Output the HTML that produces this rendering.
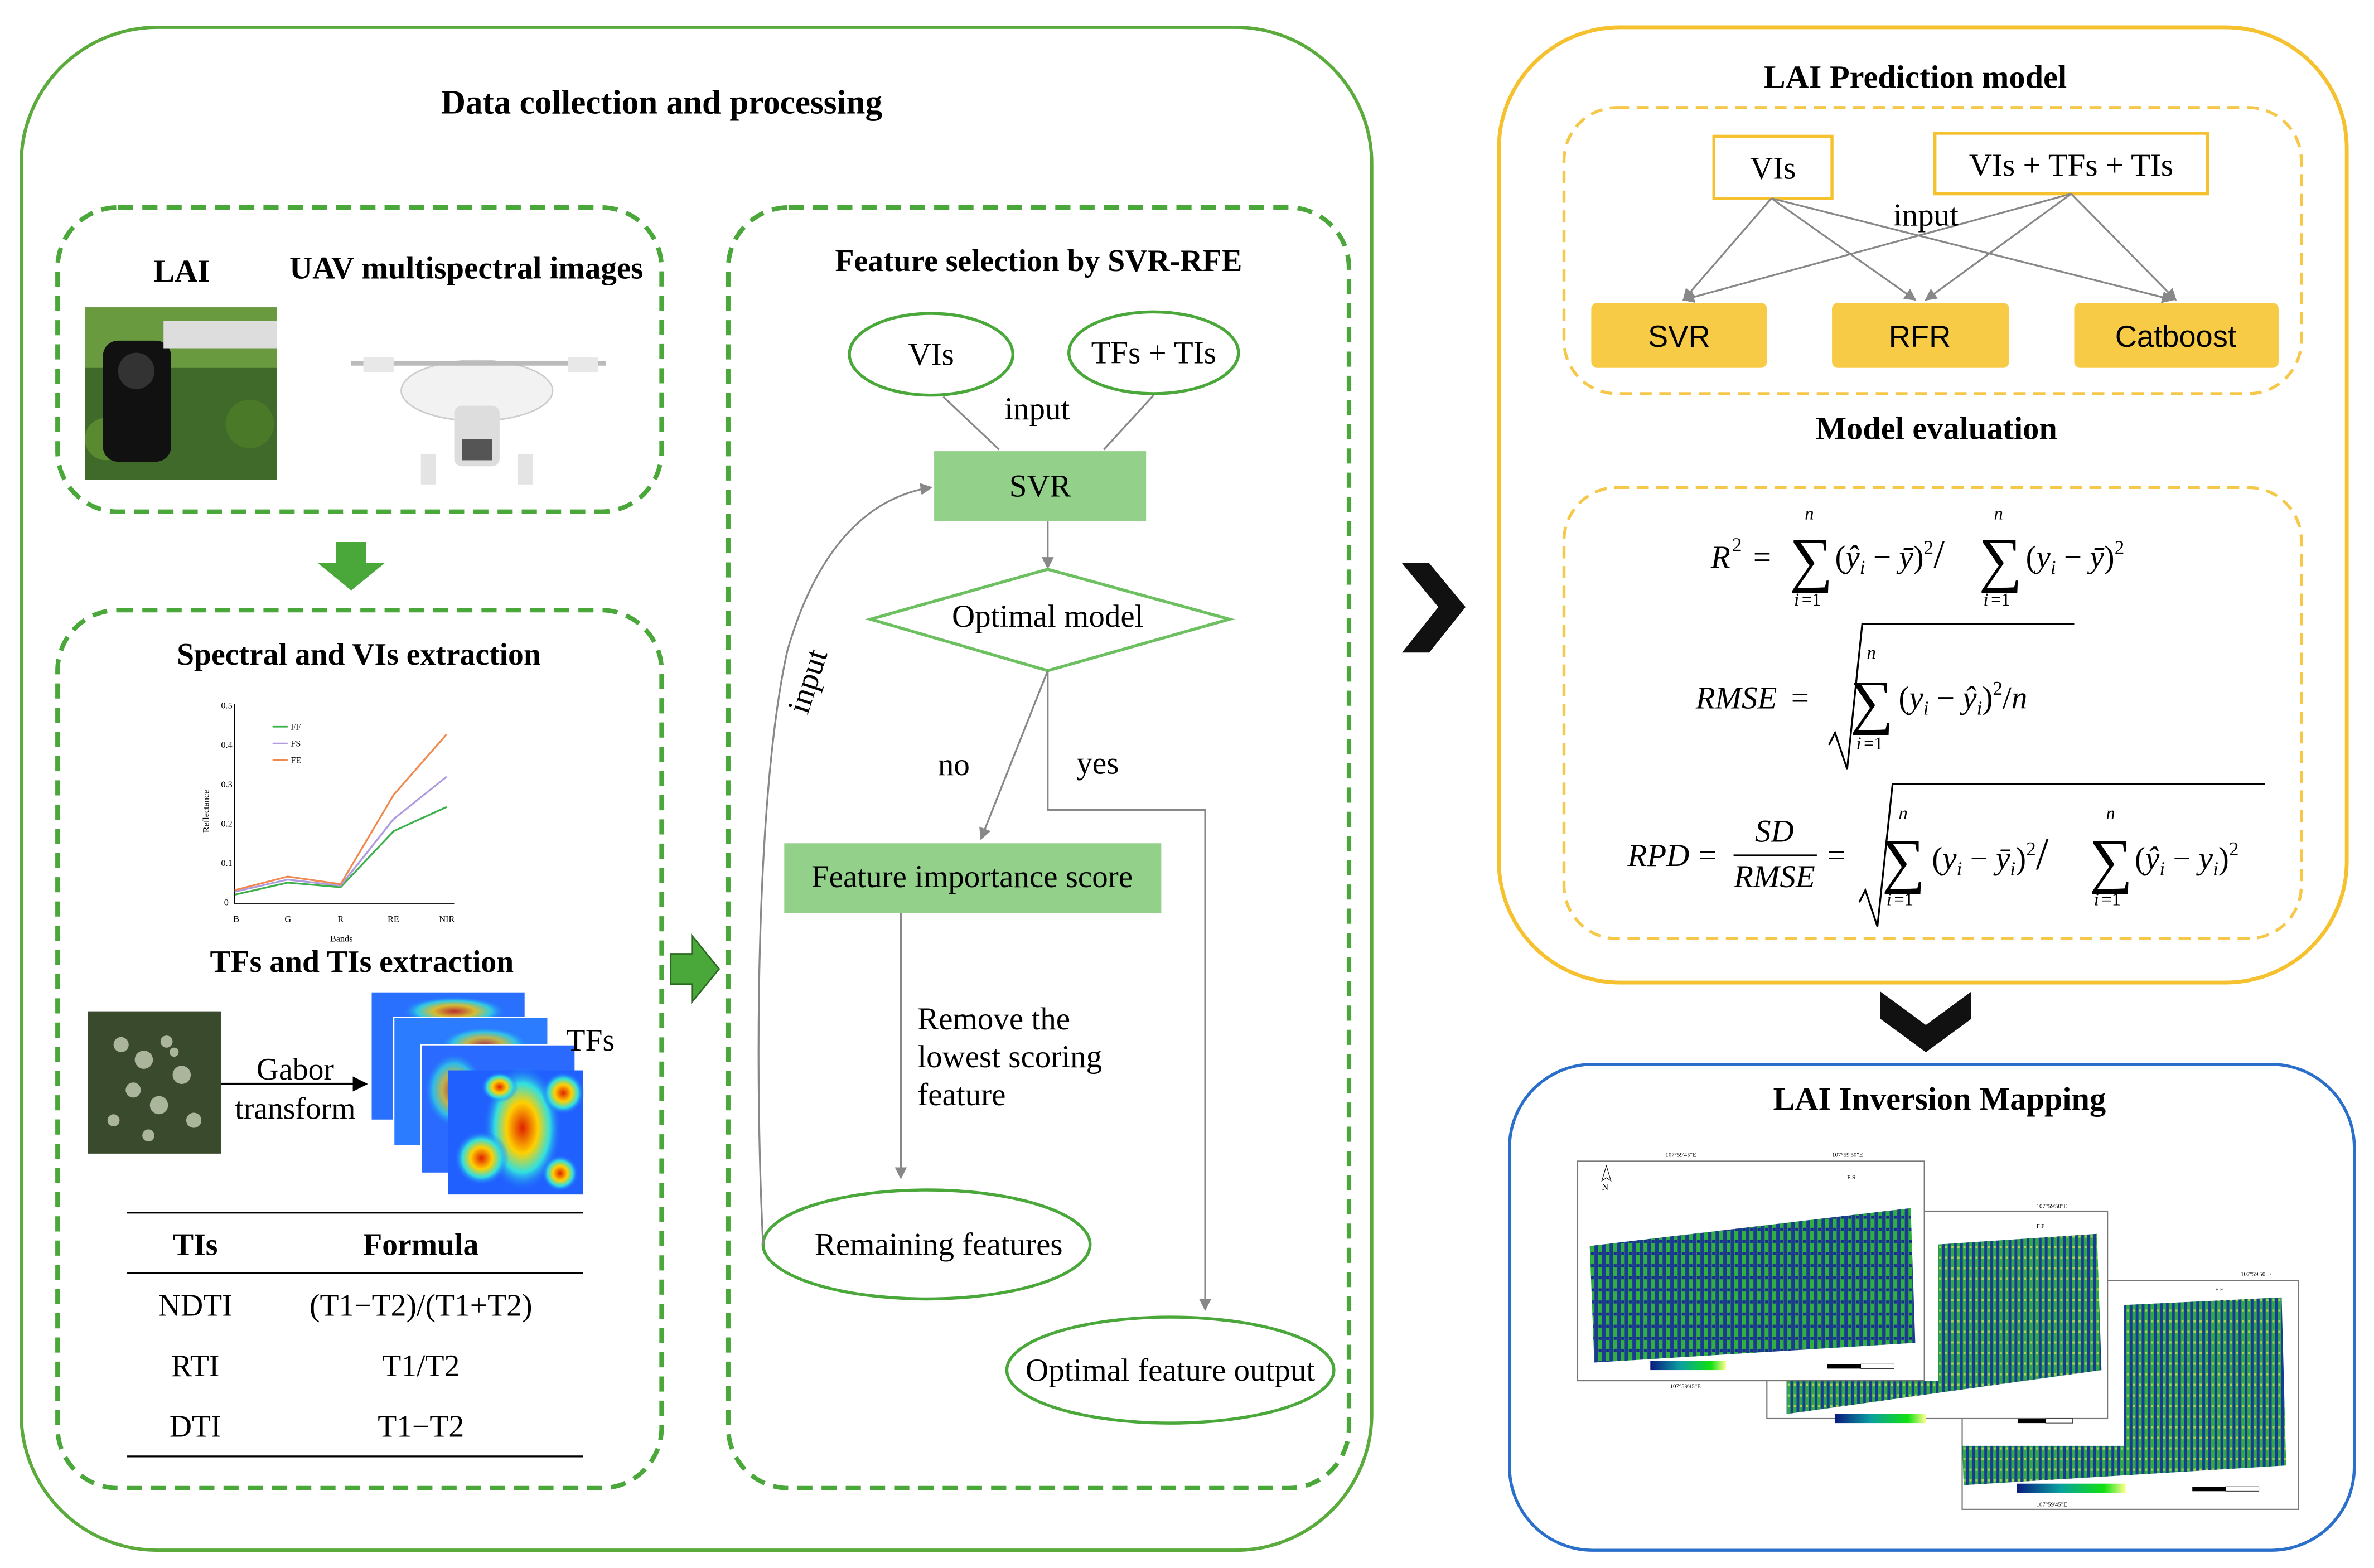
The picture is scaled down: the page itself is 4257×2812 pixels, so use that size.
<!DOCTYPE html>
<html><head><meta charset="utf-8"><style>
html,body{margin:0;padding:0;background:#fff}
svg{display:block}
text{font-family:"Liberation Serif",serif;fill:#000}
.b{font-weight:bold}
</style></head><body>
<svg width="4257" height="2812" viewBox="0 0 1568 1035.7" xmlns="http://www.w3.org/2000/svg">
<defs>
<marker id="ag" markerWidth="8" markerHeight="8" refX="7" refY="4" orient="auto" markerUnits="userSpaceOnUse"><path d="M0,0 L8,4 L0,8 z" fill="#888"/></marker>
<marker id="ak" markerWidth="10" markerHeight="10" refX="9" refY="5" orient="auto" markerUnits="userSpaceOnUse"><path d="M0,0 L10,5 L0,10 z" fill="#000"/></marker>
<pattern id="stripe" width="5" height="8" patternUnits="userSpaceOnUse">
<rect width="5" height="8" fill="#1c3a92"/><rect x="0.5" width="2.6" height="8" fill="#2fb040"/><rect x="0.8" y="3" width="2" height="2" fill="#16308a"/>
</pattern>
<pattern id="stripe2" width="4" height="7" patternUnits="userSpaceOnUse">
<rect width="4" height="7" fill="#1a3a98"/><rect x="0.4" width="2.2" height="7" fill="#30a848"/><rect x="0.8" y="4" width="1.4" height="1.5" fill="#a8d848"/>
</pattern>
<linearGradient id="cb" x1="0" x2="1"><stop offset="0" stop-color="#0a1a80"/><stop offset="0.4" stop-color="#0aa0a0"/><stop offset="0.8" stop-color="#10e010"/><stop offset="1" stop-color="#ffff90"/></linearGradient>
<radialGradient id="hot" cx="0.5" cy="0.5" r="0.5"><stop offset="0" stop-color="#e02000"/><stop offset="0.4" stop-color="#ffd000"/><stop offset="0.7" stop-color="#30e0e0"/><stop offset="1" stop-color="#2060ff" stop-opacity="0"/></radialGradient>
</defs>

<rect x="14" y="18" width="892" height="1006" rx="90" fill="none" stroke="#5aab3c" stroke-width="2.2"/>
<text x="437" y="75" font-size="22.5" class="b" text-anchor="middle">Data collection and processing</text>

<rect x="38" y="137" width="399" height="201" rx="40" fill="none" stroke="#4aa83a" stroke-width="3" stroke-dasharray="10,6"/>
<text x="120" y="186" font-size="21" class="b" text-anchor="middle">LAI</text>
<text x="308" y="184" font-size="21" class="b" text-anchor="middle">UAV multispectral images</text>
<rect x="56" y="203" width="127" height="114" fill="#3f6a2a"/>
<rect x="56" y="203" width="127" height="40" fill="#6a9a40"/>
<circle cx="70" cy="290" r="14" fill="#5a8a30"/><circle cx="165" cy="280" r="16" fill="#4a7a28"/>
<rect x="68" y="225" width="45" height="80" rx="10" fill="#111"/>
<circle cx="90" cy="245" r="12" fill="#333"/>
<rect x="108" y="212" width="75" height="18" fill="#ddd"/>
<ellipse cx="315" cy="258" rx="50" ry="20" fill="#f2f2f2" stroke="#ccc"/>
<rect x="300" y="268" width="30" height="40" rx="5" fill="#ddd"/>
<rect x="305" y="290" width="20" height="14" fill="#555"/>
<line x1="232" y1="240" x2="400" y2="240" stroke="#bbb" stroke-width="3"/>
<rect x="240" y="236" width="20" height="10" fill="#e8e8e8"/><rect x="375" y="236" width="20" height="10" fill="#e8e8e8"/>
<rect x="278" y="300" width="10" height="20" fill="#e4e4e4"/><rect x="342" y="300" width="10" height="20" fill="#e4e4e4"/>

<path d="M222,358 h20 v14 h12 l-22,18 l-22,-18 h12 z" fill="#4aa83a"/>

<rect x="38" y="403" width="399" height="580" rx="40" fill="none" stroke="#4aa83a" stroke-width="3" stroke-dasharray="10,6"/>
<text x="237" y="439" font-size="20.5" class="b" text-anchor="middle">Spectral  and VIs extraction</text>
<g font-size="6">
<line x1="155" y1="465" x2="155" y2="597" stroke="#000" stroke-width="0.6"/>
<line x1="155" y1="597" x2="300" y2="597" stroke="#000" stroke-width="0.6"/>
<text x="146" y="468">0.5</text><text x="146" y="494">0.4</text><text x="146" y="520">0.3</text><text x="146" y="546">0.2</text><text x="146" y="572">0.1</text><text x="148" y="598">0</text>
<text x="154" y="609">B</text><text x="188" y="609">G</text><text x="223" y="609">R</text><text x="256" y="609">RE</text><text x="290" y="609">NIR</text>
<text x="218" y="622">Bands</text>
<text x="138" y="550" transform="rotate(-90 138 550)">Reflectance</text>
<line x1="180" y1="480" x2="190" y2="480" stroke="#3cb04a"/><text x="192" y="482">FF</text>
<line x1="180" y1="491" x2="190" y2="491" stroke="#b09ae0"/><text x="192" y="493">FS</text>
<line x1="180" y1="502" x2="190" y2="502" stroke="#f08a50"/><text x="192" y="504">FE</text>
</g>
<polyline points="155,591 190,583 225,586 260,549 295,533" fill="none" stroke="#3cb04a" stroke-width="1.2"/>
<polyline points="155,589 190,581 225,585 260,541 295,513" fill="none" stroke="#b09ae0" stroke-width="1.2"/>
<polyline points="155,588 190,579 225,584 260,525 295,485" fill="none" stroke="#f08a50" stroke-width="1.2"/>

<text x="239" y="642" font-size="20.5" class="b" text-anchor="middle">TFs and TIs extraction</text>
<rect x="58" y="668" width="88" height="94" fill="#3a4a2c"/>
<g fill="#c8d0b8" opacity="0.8">
<circle cx="80" cy="690" r="5"/><circle cx="95" cy="700" r="6"/><circle cx="110" cy="688" r="4"/><circle cx="120" cy="710" r="6"/><circle cx="88" cy="720" r="5"/><circle cx="105" cy="730" r="6"/><circle cx="75" cy="740" r="4"/><circle cx="128" cy="740" r="5"/><circle cx="98" cy="750" r="4"/><circle cx="115" cy="695" r="3"/>
</g>
<text x="195" y="713" font-size="20.5" text-anchor="middle">Gabor</text>
<text x="195" y="739" font-size="20.5" text-anchor="middle">transform</text>
<line x1="146" y1="716" x2="242" y2="716" stroke="#000" stroke-width="1.5" marker-end="url(#ak)"/>
<g>
<rect x="245" y="655" width="102" height="85" fill="#2a70ff" stroke="#fff"/>
<ellipse cx="300" cy="668" rx="35" ry="10" fill="url(#hot)" opacity="0.8"/>
<rect x="260" y="672" width="102" height="85" fill="#2c7cff" stroke="#fff"/>
<ellipse cx="320" cy="690" rx="30" ry="12" fill="url(#hot)" opacity="0.7"/>
<rect x="278" y="690" width="102" height="85" fill="#2a6aff" stroke="#fff"/>
<ellipse cx="300" cy="720" rx="20" ry="25" fill="url(#hot)" opacity="0.7"/>
<rect x="296" y="707" width="89" height="82" fill="#2060ff"/>
<ellipse cx="345" cy="745" rx="26" ry="42" fill="url(#hot)"/>
<ellipse cx="318" cy="765" rx="18" ry="18" fill="url(#hot)"/>
<ellipse cx="372" cy="722" rx="14" ry="14" fill="url(#hot)"/>
<ellipse cx="330" cy="718" rx="12" ry="10" fill="url(#hot)"/>
<ellipse cx="370" cy="775" rx="12" ry="12" fill="url(#hot)"/>
</g>
<text x="390" y="694" font-size="20.5" text-anchor="middle">TFs</text>
<line x1="84" y1="801" x2="385" y2="801" stroke="#000" stroke-width="1.2"/>
<line x1="84" y1="841" x2="385" y2="841" stroke="#000" stroke-width="1"/>
<line x1="84" y1="962" x2="385" y2="962" stroke="#000" stroke-width="1.2"/>
<text x="129" y="829" font-size="20.5" class="b" text-anchor="middle">TIs</text>
<text x="278" y="829" font-size="20.5" class="b" text-anchor="middle">Formula</text>
<g font-size="20.5" text-anchor="middle">
<text x="129" y="869">NDTI</text><text x="278" y="869">(T1−T2)/(T1+T2)</text>
<text x="129" y="909">RTI</text><text x="278" y="909">T1/T2</text>
<text x="129" y="949">DTI</text><text x="278" y="949">T1−T2</text>
</g>

<path d="M443,630 h14 v-12 l18,22 l-18,22 v-12 h-14 z" fill="#4aa83a" stroke="#2a6a20" stroke-width="1"/>

<rect x="481" y="137" width="410" height="846" rx="40" fill="none" stroke="#4aa83a" stroke-width="3" stroke-dasharray="10,6"/>
<text x="686" y="179" font-size="20.5" class="b" text-anchor="middle">Feature selection by SVR-RFE</text>
<ellipse cx="615" cy="234" rx="54" ry="27" fill="#fff" stroke="#4aa83a" stroke-width="2"/>
<text x="615" y="241" font-size="21" text-anchor="middle">VIs</text>
<ellipse cx="762" cy="233" rx="56" ry="27" fill="#fff" stroke="#4aa83a" stroke-width="2"/>
<text x="762" y="240" font-size="21" text-anchor="middle">TFs + TIs</text>
<line x1="623" y1="262" x2="660" y2="297" stroke="#888" stroke-width="1.2"/>
<line x1="762" y1="261" x2="729" y2="297" stroke="#888" stroke-width="1.2"/>
<text x="685" y="277" font-size="21" text-anchor="middle">input</text>
<rect x="617" y="298" width="140" height="46" fill="#93d18a"/>
<text x="687" y="328" font-size="21" text-anchor="middle">SVR</text>
<line x1="692" y1="344" x2="692" y2="375" stroke="#888" stroke-width="1.2" marker-end="url(#ag)"/>
<polygon points="575,409 692,376 812,409 692,443" fill="#fff" stroke="#6cc060" stroke-width="2"/>
<text x="692" y="414" font-size="21" text-anchor="middle">Optimal model</text>
<line x1="692" y1="443" x2="648" y2="554" stroke="#888" stroke-width="1.2" marker-end="url(#ag)"/>
<polyline points="692,443 692,535 796,535 796,865" fill="none" stroke="#888" stroke-width="1.2" marker-end="url(#ag)"/>
<text x="630" y="512" font-size="21" text-anchor="middle">no</text>
<text x="725" y="511" font-size="21" text-anchor="middle">yes</text>
<rect x="518" y="557" width="249" height="46" fill="#93d18a"/>
<text x="642" y="586" font-size="21" text-anchor="middle">Feature importance score</text>
<line x1="595" y1="603" x2="595" y2="778" stroke="#888" stroke-width="1.2" marker-end="url(#ag)"/>
<g font-size="21"><text x="606" y="680">Remove the</text><text x="606" y="705">lowest scoring</text><text x="606" y="730">feature</text></g>
<ellipse cx="612" cy="822" rx="108" ry="36" fill="#fff" stroke="#4aa83a" stroke-width="2"/>
<text x="620" y="829" font-size="21" text-anchor="middle">Remaining features</text>
<path d="M504,822 C498,700 500,520 520,430 C540,360 575,328 615,322" fill="none" stroke="#888" stroke-width="1.2" marker-end="url(#ag)"/>
<text x="540" y="452" font-size="21" text-anchor="middle" transform="rotate(-72 540 452)">input</text>
<ellipse cx="773" cy="905" rx="108" ry="35" fill="#fff" stroke="#4aa83a" stroke-width="2"/>
<text x="773" y="912" font-size="21" text-anchor="middle">Optimal feature output</text>

<path d="M926,372 h18 l24,29 l-24,30 h-18 l24,-30 z" fill="#111"/>

<rect x="990" y="18" width="560" height="631" rx="80" fill="none" stroke="#f5c12e" stroke-width="2.5"/>
<text x="1265" y="58" font-size="21.5" class="b" text-anchor="middle">LAI Prediction model</text>
<rect x="1033" y="71" width="487" height="189" rx="35" fill="none" stroke="#f5c84a" stroke-width="2" stroke-dasharray="8,5"/>
<rect x="1132" y="90" width="78" height="41" fill="#fff" stroke="#f5c12e" stroke-width="2"/>
<text x="1171" y="118" font-size="21" text-anchor="middle">VIs</text>
<rect x="1278" y="88" width="180" height="40" fill="#fff" stroke="#f5c12e" stroke-width="2"/>
<text x="1368" y="116" font-size="21" text-anchor="middle">VIs + TFs + TIs</text>
<g stroke="#888" stroke-width="1.2" fill="none">
<line x1="1170" y1="131" x2="1112" y2="198" marker-end="url(#ag)"/>
<line x1="1170" y1="131" x2="1265" y2="198" marker-end="url(#ag)"/>
<line x1="1170" y1="131" x2="1435" y2="198" marker-end="url(#ag)"/>
<line x1="1368" y1="128" x2="1112" y2="198" marker-end="url(#ag)"/>
<line x1="1368" y1="128" x2="1272" y2="198" marker-end="url(#ag)"/>
<line x1="1368" y1="128" x2="1437" y2="198" marker-end="url(#ag)"/>
</g>
<text x="1272" y="149" font-size="21" text-anchor="middle">input</text>
<rect x="1051" y="200" width="116" height="43" rx="4" fill="#f7cb45"/><text x="1109" y="229" font-size="20" text-anchor="middle" style="font-family:'Liberation Sans',sans-serif">SVR</text>
<rect x="1210" y="200" width="117" height="43" rx="4" fill="#f7cb45"/><text x="1268" y="229" font-size="20" text-anchor="middle" style="font-family:'Liberation Sans',sans-serif">RFR</text>
<rect x="1370" y="200" width="135" height="43" rx="4" fill="#f7cb45"/><text x="1437" y="229" font-size="20" text-anchor="middle" style="font-family:'Liberation Sans',sans-serif">Catboost</text>
<text x="1279" y="290" font-size="21.5" class="b" text-anchor="middle">Model evaluation</text>
<rect x="1033" y="322" width="487" height="298" rx="35" fill="none" stroke="#f5c84a" stroke-width="2" stroke-dasharray="8,5"/>
<g font-size="21">
<text x="1130" y="375" font-style="italic">R</text><text x="1144" y="364" font-size="13">2</text><text x="1158" y="375">=</text>
<text x="1182" y="383" font-size="40">∑</text><text x="1192" y="343" font-size="12" font-style="italic">n</text><text x="1185" y="400" font-size="12" font-style="italic">i</text><text x="1190" y="400" font-size="12">=1</text>
<text x="1212" y="375">(<tspan font-style="italic">ŷ</tspan><tspan font-size="13" font-style="italic" dy="4">i</tspan><tspan dy="-4"> − </tspan><tspan font-style="italic">ȳ</tspan>)<tspan font-size="13" dy="-9">2</tspan><tspan dy="9" font-size="26">/</tspan></text>
<text x="1307" y="383" font-size="40">∑</text><text x="1317" y="343" font-size="12" font-style="italic">n</text><text x="1310" y="400" font-size="12" font-style="italic">i</text><text x="1315" y="400" font-size="12">=1</text>
<text x="1338" y="375">(<tspan font-style="italic">y</tspan><tspan font-size="13" font-style="italic" dy="4">i</tspan><tspan dy="-4"> − </tspan><tspan font-style="italic">ȳ</tspan>)<tspan font-size="13" dy="-9">2</tspan></text>

<text x="1120" y="468" font-style="italic">RMSE</text><text x="1183" y="468">=</text>
<path d="M1208,492 l4,-8 l8,24 l10,-96 h140" fill="none" stroke="#000" stroke-width="1.2"/>
<text x="1222" y="477" font-size="40">∑</text><text x="1233" y="435" font-size="12" font-style="italic">n</text><text x="1226" y="495" font-size="12" font-style="italic">i</text><text x="1231" y="495" font-size="12">=1</text>
<text x="1254" y="468">(<tspan font-style="italic">y</tspan><tspan font-size="13" font-style="italic" dy="4">i</tspan><tspan dy="-4"> − </tspan><tspan font-style="italic">ŷ</tspan><tspan font-size="13" font-style="italic" dy="4">i</tspan><tspan dy="-4">)</tspan><tspan font-size="13" dy="-9">2</tspan><tspan dy="9">/</tspan><tspan font-style="italic">n</tspan></text>

<text x="1075" y="572" font-style="italic">RPD</text><text x="1122" y="572">=</text>
<text x="1172" y="556" font-style="italic" text-anchor="middle">SD</text>
<line x1="1145" y1="565" x2="1200" y2="565" stroke="#000" stroke-width="1.2"/>
<text x="1172" y="586" font-style="italic" text-anchor="middle">RMSE</text>
<text x="1207" y="572">=</text>
<path d="M1228,596 l4,-8 l8,24 l10,-94 h246" fill="none" stroke="#000" stroke-width="1.2"/>
<text x="1243" y="582" font-size="40">∑</text><text x="1254" y="541" font-size="12" font-style="italic">n</text><text x="1246" y="598" font-size="12" font-style="italic">i</text><text x="1251" y="598" font-size="12">=1</text>
<text x="1276" y="574">(<tspan font-style="italic">y</tspan><tspan font-size="13" font-style="italic" dy="4">i</tspan><tspan dy="-4"> − </tspan><tspan font-style="italic">ȳ</tspan><tspan font-size="13" font-style="italic" dy="4">i</tspan><tspan dy="-4">)</tspan><tspan font-size="13" dy="-9">2</tspan><tspan dy="9" font-size="30">/</tspan></text>
<text x="1380" y="582" font-size="40">∑</text><text x="1391" y="541" font-size="12" font-style="italic">n</text><text x="1383" y="598" font-size="12" font-style="italic">i</text><text x="1388" y="598" font-size="12">=1</text>
<text x="1410" y="574">(<tspan font-style="italic">ŷ</tspan><tspan font-size="13" font-style="italic" dy="4">i</tspan><tspan dy="-4"> − </tspan><tspan font-style="italic">y</tspan><tspan font-size="13" font-style="italic" dy="4">i</tspan><tspan dy="-4">)</tspan><tspan font-size="13" dy="-9">2</tspan></text>
</g>

<path d="M1242,655 v18 l30,22 l30,-22 v-18 l-30,22 z" fill="#111"/>

<rect x="997" y="703" width="558" height="321" rx="55" fill="none" stroke="#2a6fc9" stroke-width="2"/>
<text x="1281" y="733" font-size="21.5" class="b" text-anchor="middle">LAI Inversion Mapping</text>
<g font-size="4">
<!-- map3 -->
<rect x="1296" y="846" width="222" height="151" fill="#fff" stroke="#777" stroke-width="0.8"/>
<polygon points="1403,862 1507,857 1510,968 1297,981 1296,955 1403,955" fill="url(#stripe2)"/>
<rect x="1332" y="980" width="72" height="6" fill="url(#cb)"/>
<rect x="1448" y="982" width="22" height="3" fill="#000"/><rect x="1470" y="982" width="22" height="3" fill="#fff" stroke="#000" stroke-width="0.3"/>
<text x="1463" y="853">F E</text><text x="1480" y="843">107°59'50"E</text><text x="1345" y="995">107°59'45"E</text>
<!-- map2 -->
<rect x="1167" y="800" width="225" height="137" fill="#fff" stroke="#777" stroke-width="0.8"/>
<polygon points="1280,822 1385,815 1388,905 1180,934 1180,912 1280,912" fill="url(#stripe2)"/>
<rect x="1212" y="934" width="60" height="6" fill="url(#cb)"/>
<rect x="1333" y="937" width="18" height="3" fill="#000"/><rect x="1351" y="937" width="18" height="3" fill="#fff" stroke="#000" stroke-width="0.3"/>
<text x="1345" y="811">F F</text><text x="1345" y="798">107°59'50"E</text>
<!-- map1 -->
<rect x="1042" y="767" width="229" height="145" fill="#fff" stroke="#777" stroke-width="0.8"/>
<polygon points="1050,823 1262,798 1265,887 1053,900" fill="url(#stripe)"/>
<rect x="1090" y="899" width="50" height="6" fill="url(#cb)"/>
<rect x="1207" y="901" width="22" height="3" fill="#000"/><rect x="1229" y="901" width="22" height="3" fill="#fff" stroke="#000" stroke-width="0.3"/>
<text x="1220" y="779">F S</text><text x="1100" y="764">107°59'45"E</text><text x="1210" y="764">107°59'50"E</text>
<text x="1103" y="917">107°59'45"E</text>
<path d="M1061,770 l-3,10 l3,-2 l3,2 z" fill="none" stroke="#000" stroke-width="0.4"/>
<text x="1058" y="786" font-size="6">N</text>
</g>
</svg>
</body></html>
